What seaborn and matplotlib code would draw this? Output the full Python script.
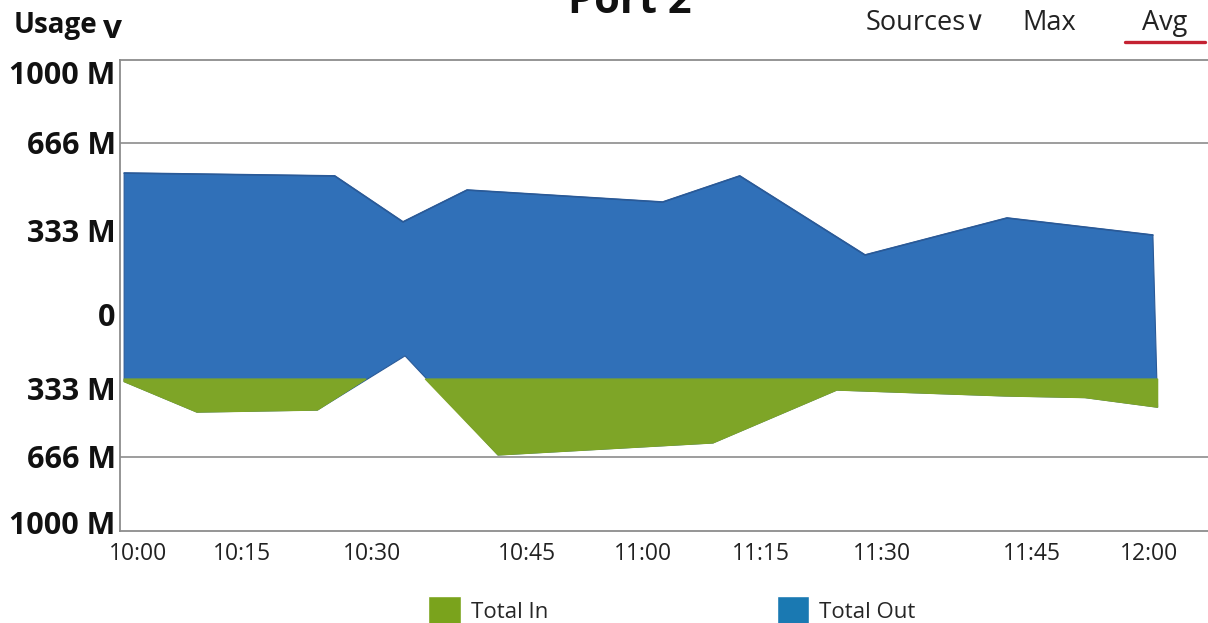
import numpy as np
import matplotlib
matplotlib.use("Agg")
import matplotlib.pyplot as plt
from matplotlib.patches import Patch
from matplotlib.lines import Line2D
import seaborn as sns

# ---- data -------------------------------------------------------------
# time axis: minutes after 10:00
time_labels = ["10:00", "10:15", "10:30", "10:45", "11:00", "11:15", "11:30", "11:45", "12:00"]
tick_minutes = [0, 15, 30, 45, 60, 75, 90, 105, 120]

# Total Out (upper edge of the blue band), Mbps
out_minutes = [-2.0, 25.7, 33.0, 39.2, 62.5, 72.3, 87.9, 102.5, 120.5]
out_mbps = [551, 540, 364, 486, 440, 540, 234, 379, 313]

# Total In (lower edge), Mbps, drawn downwards
in_minutes = [-2.0, 8.5, 23.7, 33.2, 42.2, 68.9, 84.4, 102.3, 111.8, 121.1]
in_mbps = [-300, -446, -436, -186, -656, -597, -338, -367, -375, -422]
in_floor = -289

y_tick_values = [-1000, -666, -333, 0, 333, 666, 1000]
y_tick_labels = ["1000 M", "666 M", "333 M", "0", "333 M", "666 M", "1000 M"]

# ---- layout -----------------------------------------------------------
W, H, DPI = 1208, 623, 100
X_TICK_PX = [138, 242, 372, 527, 643, 761, 882, 1032, 1149]
Y_TICK_PX = [523, 457, 389, 314, 230, 143, 72]   # from top, for y_tick_values
AX_L, AX_R, AX_T, AX_B = 120, 1208, 60, 531

BLUE = "#3070b8"
BLUE_EDGE = "#2a5a98"
GREEN = "#7ea527"
GRID = "#8c8c8c"


def piecewise(xp, fp):
    xp = np.asarray(xp, float)
    fp = np.asarray(fp, float)
    s0 = (fp[1] - fp[0]) / (xp[1] - xp[0])
    s1 = (fp[-1] - fp[-2]) / (xp[-1] - xp[-2])

    def f(v):
        v = np.asarray(v, float)
        out = np.interp(v, xp, fp)
        out = np.where(v < xp[0], fp[0] + (v - xp[0]) * s0, out)
        out = np.where(v > xp[-1], fp[-1] + (v - xp[-1]) * s1, out)
        return out
    return f


x_fwd = piecewise(tick_minutes, X_TICK_PX)
x_inv = piecewise(X_TICK_PX, tick_minutes)
y_height = [H - p for p in Y_TICK_PX]
y_fwd = piecewise(y_tick_values, y_height)
y_inv = piecewise(y_height, y_tick_values)

sns.set_theme(style="white")
plt.rcParams["font.family"] = ["Open Sans", "DejaVu Sans"]

fig = plt.figure(figsize=(W / DPI, H / DPI), dpi=DPI)
ax = fig.add_axes([AX_L / W, (H - AX_B) / H, (AX_R - AX_L) / W, (AX_B - AX_T) / H])
ax.set_xscale("function", functions=(x_fwd, x_inv))
ax.set_yscale("function", functions=(y_fwd, y_inv))
ax.set_xlim(float(x_inv(AX_L)), float(x_inv(AX_R)))
ax.set_ylim(float(y_inv(H - AX_B)), float(y_inv(H - AX_T)))

# blue band between the Out and In curves
ax.fill(np.r_[out_minutes, in_minutes[::-1]], np.r_[out_mbps, in_mbps[::-1]],
        facecolor=BLUE, edgecolor=BLUE_EDGE, linewidth=0.8, zorder=2)
# green band below the In floor
in_arr = np.asarray(in_mbps, float)
ax.fill_between(in_minutes, in_arr, in_floor, where=in_arr <= in_floor,
                interpolate=True, facecolor=GREEN, edgecolor=GREEN, linewidth=1.0, zorder=3)
sns.lineplot(x=out_minutes, y=out_mbps, ax=ax, color=BLUE_EDGE, linewidth=1.2, zorder=4)

for v in (666, -666):
    ax.axhline(v, color=GRID, linewidth=1.2, zorder=1)

ax.set_xticks(tick_minutes, time_labels)
ax.set_yticks(y_tick_values, y_tick_labels)
ax.tick_params(axis="x", length=0, pad=8, labelsize=16.5, labelcolor="#222222")
ax.tick_params(axis="y", length=0, pad=3, labelsize=22, labelcolor="#111111")
for lbl in ax.get_yticklabels():
    lbl.set_fontweight("bold")
ax.grid(False)
for side in ("left", "top", "bottom"):
    ax.spines[side].set_color(GRID)
    ax.spines[side].set_linewidth(1.3)
ax.spines["right"].set_visible(False)
ax.set_xlabel("")
ax.set_ylabel("")

# header texts
fig.text(14 / W, 1 - 25 / H, "Usage", fontsize=20, fontweight="bold", va="center", ha="left", color="#111111")
fig.text(103 / W, 1 - 29 / H, "v", fontsize=24, fontweight="bold", va="center", ha="left", color="#111111")
fig.text(630 / W, 1 - 13 / H, "Port 2", fontsize=30, fontweight="bold", va="baseline", ha="center", color="#111111")
fig.text(866 / W, 1 - 23 / H, "Sources\u2228", fontsize=19.5, va="center", ha="left", color="#222222")
fig.text(1022 / W, 1 - 23 / H, "Max", fontsize=19.5, va="center", ha="left", color="#222222")
fig.text(1142 / W, 1 - 23 / H, "Avg", fontsize=19.5, va="center", ha="left", color="#222222")
fig.add_artist(Line2D([1125 / W, 1205 / W], [1 - 42 / H, 1 - 42 / H], transform=fig.transFigure,
                      color="#c42232", linewidth=2.4))

handles = [Patch(facecolor="#7aa31c", label="Total In"), Patch(facecolor="#1a79b2", label="Total Out")]
fig.legend(handles=handles, loc="center", bbox_to_anchor=(672 / W, 1 - 611 / H), ncol=2,
           frameon=False, fontsize=16, handlelength=1.45, handleheight=1.75,
           handletextpad=0.45, columnspacing=10.3, borderaxespad=0, borderpad=0)

fig.savefig("out.png", dpi=DPI)
